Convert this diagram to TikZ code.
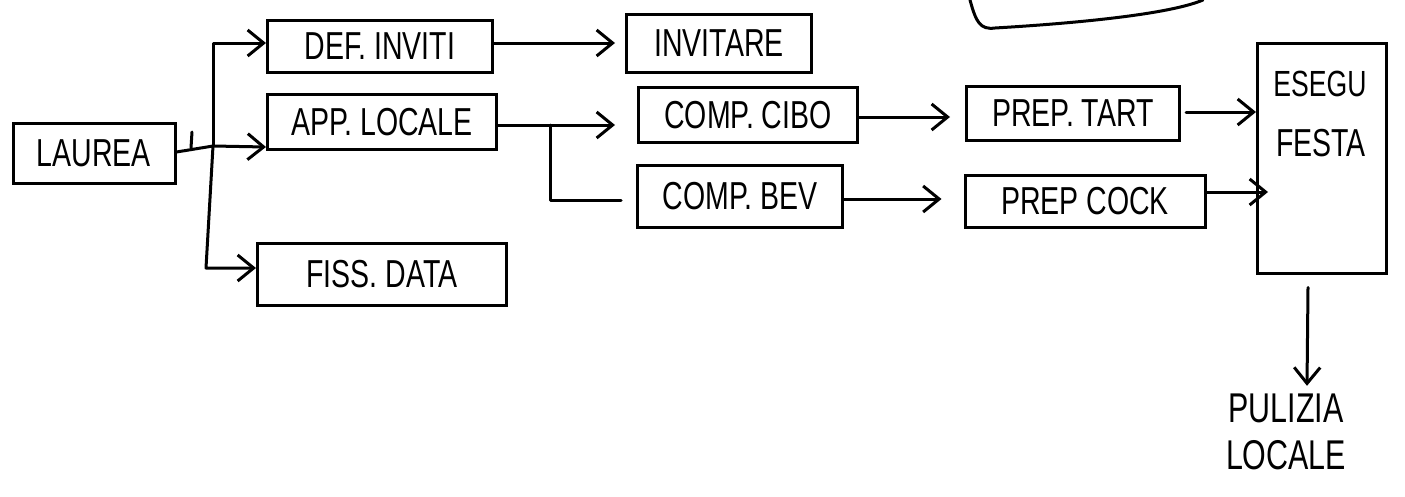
\documentclass[tikz,border=0pt]{standalone}
\usepackage{fontspec}
\usepackage{graphicx}
\setmainfont{Liberation Sans}
\usetikzlibrary{arrows.meta}
\newcommand{\hw}[1]{\scalebox{0.95}[1.3]{#1}}
\tikzset{
  box/.style={draw, line width=3pt, rectangle, inner sep=0pt, font=\fontsize{30}{31}\selectfont},
  conn/.style={line width=3pt, line cap=round, line join=round},
  arr/.style={conn, -{Straight Barb[length=16pt,width=26pt,line width=3pt]}},
  txt/.style={font=\fontsize{30}{31}\selectfont, inner sep=0pt}
}
\begin{document}
\begin{tikzpicture}[x=1pt,y=-1pt]
\useasboundingbox (0,0) rectangle (1405,496);
% boxes
\node[box, minimum width=162, minimum height=60] (laurea) at (94,153) {\hw{LAUREA}};
\node[box, minimum width=225, minimum height=52] (def) at (380,46) {\hw{DEF. INVITI}};
\node[box, minimum width=229, minimum height=55] (app) at (382,122) {\hw{APP. LOCALE}};
\node[box, minimum width=249, minimum height=62] (fiss) at (382,274) {\hw{FISS. DATA}};
\node[box, minimum width=185, minimum height=58] (inv) at (719,43) {\hw{INVITARE}};
\node[box, minimum width=219, minimum height=55] (cibo) at (748,115) {\hw{COMP. CIBO}};
\node[box, minimum width=205, minimum height=62] (bev) at (740,196) {\hw{COMP. BEV}};
\node[box, minimum width=213, minimum height=54] (tart) at (1073,113) {\hw{PREP. TART}};
\node[box, minimum width=240, minimum height=52] (cock) at (1085,201) {\hw{PREP COCK}};
\node[box, minimum width=129, minimum height=230] (festa) at (1322,158) {};
\node[txt, font=\fontsize{28}{29}\selectfont] (esegu) at (1320,84) {\hw{ESEGU}};
\node[txt] (festat) at (1321,143) {\hw{FESTA}};
\node[txt, align=center, font=\fontsize{32}{33}\selectfont] (pul) at (1286,432) {\hw{PULIZIA}\\[14pt]\hw{LOCALE}};
% partial box at top
\draw[line width=3pt, line cap=round] (970,0) .. controls (976,22) and (980,30) .. (995,28)
  .. controls (1080,23) and (1170,14) .. (1203,0);
% connectors from LAUREA
\coordinate (j) at (213,146);
\coordinate (jt) at (213,43);
\coordinate (jb) at (206,268);
\draw[conn] (laurea.east |- 0,152) -- (j);
\draw[conn] (192,132) -- (191,148);
\draw[arr] (j) -- ([yshift=4pt]app.south west);
\draw[arr] (j) -- (jt) -- (def.west |- jt);
\draw[arr] (j) -- (jb) -- (fiss.west |- jb);
% DEF -> INVITARE
\draw[arr] (def.east |- 0,43) -- ([xshift=-10pt]inv.west |- 0,43);
% APP -> CIBO, BEV
\coordinate (ja) at (550,125);
\coordinate (jab) at (550,200);
\draw[arr] (app.east |- ja) -- ([xshift=-22pt]cibo.west |- ja);
\draw[conn] (ja) -- (jab) -- ([xshift=-15pt]bev.west |- jab);
% CIBO -> TART, BEV -> COCK
\draw[arr] (cibo.east |- 0,117) -- ([xshift=-15pt]tart.west |- 0,117);
\draw[arr] (bev.east |- 0,199) -- ([xshift=-22pt]cock.west |- 0,199);
% TART, COCK -> FESTA
\draw[arr] ([xshift=5pt]tart.east |- 0,112) -- (festa.west |- 0,112);
\draw[arr] (cock.east |- 0,192) -- ([xshift=12pt]festa.west |- 0,192);
% FESTA -> PULIZIA
\draw[arr] ([xshift=-14pt,yshift=-13pt]festa.south) -- ([xshift=21pt,yshift=8pt]pul.north);
\end{tikzpicture}
\end{document}
